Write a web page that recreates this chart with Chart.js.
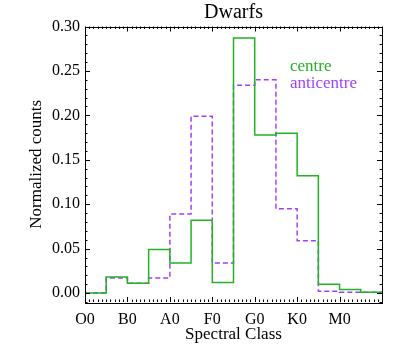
<!DOCTYPE html>
<html>
<head>
<meta charset="utf-8">
<script src="https://cdn.jsdelivr.net/npm/chart.js@4"></script>
<style>
  html, body { margin: 0; padding: 0; background: #fff; }
  #wrap { width: 407px; height: 356px; }
</style>
</head>
<body>
<div id="wrap"><canvas id="chart" width="407" height="356"></canvas></div>
<script>
// Histogramas de classe espectral (anãs)

const classLabels = ['O0', 'B0', 'A0', 'F0', 'G0', 'K0', 'M0'];
// bordas esquerdas dos bins (meia classe)
const binEdges = [0, 0.5, 1, 1.5, 2, 2.5, 3, 3.5, 4, 4.5, 5, 5.5, 6, 6.5, 7];
const centreCounts = [0.000, 0.018, 0.011, 0.049, 0.034, 0.082, 0.012, 0.287, 0.178, 0.180, 0.132, 0.010, 0.004, 0.001];
const anticentreCounts = [0.000, 0.017, 0.011, 0.017, 0.089, 0.199, 0.034, 0.234, 0.240, 0.095, 0.059, 0.002, 0.001, 0.001];

const GREEN = '#22b222';
const PURPLE = '#a040ff';
const SERIF = "'Liberation Serif', 'DejaVu Serif', serif";

const toSteps = (vals) => {
    const pts = vals.map((v, i) => ({ x: binEdges[i], y: v }));
    pts.push({ x: binEdges[vals.length], y: vals[vals.length - 1] });
    return pts;
};

// ticks para dentro nos quatro lados, estilo IDL
const boxTicks = {
    id: 'boxTicks',
    afterDraw(chart) {
        const { ctx, chartArea: a, scales: { x, y } } = chart;
        ctx.save();
        ctx.strokeStyle = '#000';
        ctx.lineWidth = 1;
        ctx.beginPath();
        for (let i = 0; i <= 70; i++) {
            const v = i / 10;
            const px = Math.round(x.getPixelForValue(v)) + 0.5;
            const len = i % 10 === 0 ? 5 : 2.5;
            ctx.moveTo(px, a.bottom); ctx.lineTo(px, a.bottom - len);
            ctx.moveTo(px, a.top); ctx.lineTo(px, a.top + len);
        }
        for (let i = -1; i <= 30; i++) {
            const v = i / 100;
            const py = Math.round(y.getPixelForValue(v)) + 0.5;
            const len = i % 5 === 0 ? 5 : 2.5;
            ctx.moveTo(a.left, py); ctx.lineTo(a.left + len, py);
            ctx.moveTo(a.right, py); ctx.lineTo(a.right - len, py);
        }
        ctx.stroke();
        ctx.strokeRect(Math.round(a.left) + 0.5, Math.round(a.top) + 0.5,
            Math.round(a.right - a.left), Math.round(a.bottom - a.top));
        ctx.restore();
    }
};

// legenda só com texto
const textLegend = {
    id: 'textLegend',
    afterDraw(chart) {
        const { ctx, chartArea: a } = chart;
        ctx.save();
        ctx.font = '17px ' + SERIF;
        ctx.textAlign = 'left';
        ctx.textBaseline = 'alphabetic';
        chart.data.datasets.forEach((ds, i) => {
            ctx.fillStyle = ds.borderColor;
            ctx.fillText(ds.label, a.left + 205, a.top + 44 + i * 17);
        });
        ctx.restore();
    }
};

new Chart(document.getElementById('chart').getContext('2d'), {
    type: 'line',
    data: {
        datasets: [
            { label: 'centre', data: toSteps(centreCounts), borderColor: GREEN, borderWidth: 1.5,
              stepped: 'before', pointRadius: 0, fill: false },
            { label: 'anticentre', data: toSteps(anticentreCounts), borderColor: PURPLE, borderWidth: 1.5,
              borderDash: [5, 3], stepped: 'before', pointRadius: 0, fill: false }
        ]
    },
    options: {
        responsive: false,
        animation: false,
        layout: { padding: { left: 0, right: 25, top: 0, bottom: 0 } },
        scales: {
            x: {
                type: 'linear', min: 0, max: 7,
                grid: { display: false, drawTicks: false }, border: { display: false },
                ticks: {
                    stepSize: 1, color: '#000', padding: 8, maxRotation: 0,
                    font: { family: SERIF, size: 16 },
                    callback: (v) => classLabels[v] || ''
                },
                title: { display: true, text: 'Spectral Class', color: '#000',
                    font: { family: SERIF, size: 17 }, padding: { top: 0, bottom: 11 } },
                afterFit: (s) => { s.height = 54; }
            },
            y: {
                min: -0.01, max: 0.30,
                grid: { display: false, drawTicks: false }, border: { display: false },
                ticks: {
                    color: '#000', padding: 5,
                    font: { family: SERIF, size: 16 },
                    callback: (v) => v.toFixed(2)
                },
                afterBuildTicks: (s) => {
                    s.ticks = [0, 0.05, 0.10, 0.15, 0.20, 0.25, 0.30].map(v => ({ value: v }));
                },
                title: { display: true, text: 'Normalized counts', color: '#000',
                    font: { family: SERIF, size: 17 }, padding: { top: 26, bottom: 0 } },
                afterFit: (s) => { s.width = 85; }
            }
        },
        plugins: {
            legend: { display: false },
            tooltip: { enabled: false },
            title: {
                display: true, text: 'Dwarfs', color: '#000', fullSize: false,
                font: { family: SERIF, size: 20, weight: 'normal', lineHeight: 1.0 },
                padding: { top: 3, bottom: 3.5 }
            }
        }
    },
    plugins: [boxTicks, textLegend]
});
</script>
</body>
</html>
